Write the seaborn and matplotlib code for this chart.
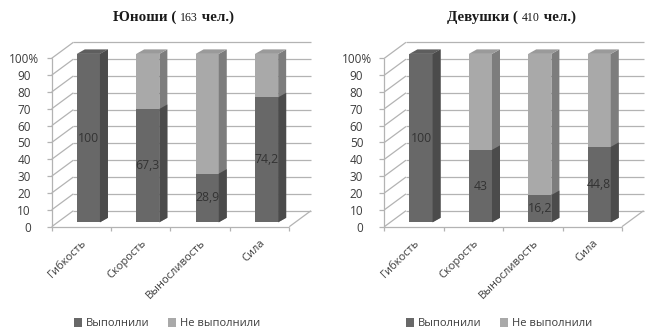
import matplotlib
matplotlib.use("Agg")
import matplotlib.pyplot as plt
import matplotlib.transforms as mtransforms
from matplotlib.patches import Polygon, Patch
import seaborn as sns

# Share of students who met the standard, per quality (percent)
categories = ["Гибкость", "Скорость", "Выносливость", "Сила"]
boys_done = [100, 67.3, 28.9, 74.2]
boys_not_done = [0, 32.7, 71.1, 25.8]
girls_done = [100, 43, 16.2, 44.8]
girls_not_done = [0, 57, 83.8, 55.2]

y_ticks = [0, 10, 20, 30, 40, 50, 60, 70, 80, 90, 100]
y_tick_labels = ["0", "10", "20", "30", "40", "50", "60", "70", "80", "90", "100%"]
legend_labels = ["Выполнили", "Не выполнили"]
panel_titles = [("Юноши ( ", "163", " чел.)"), ("Девушки ( ", "410", " чел.)")]

DARK_FRONT, DARK_SIDE, DARK_TOP = "#686868", "#4b4b4b", "#5e5e5e"
LIGHT_FRONT, LIGHT_SIDE, LIGHT_TOP = "#a9a9a9", "#7d7d7d", "#9a9a9a"
GRID = "#b3b3b3"
TEXT = "#3c3c3c"

sns.set_theme(style="white")
plt.rcParams["font.family"] = ["Open Sans", "DejaVu Sans"]

DPI = 100
fig = plt.figure(figsize=(6.46, 3.36), dpi=DPI)

ax_l = fig.add_axes([0.0800, 0.3253, 0.3678, 0.5012])
ax_r = fig.add_axes([0.5949, 0.3253, 0.3678, 0.5012])

WALL_PX = (21.7, 16.0)    # depth of the back wall
BAR_SHIFT_PX = (7.0, 4.4)  # bars stand in the middle of the floor
BAR_DEPTH_PX = (8.0, 4.5)  # visible depth of each bar


def px2data(ax, dx, dy):
    pos = ax.get_position()
    w = pos.width * fig.get_figwidth() * DPI
    h = pos.height * fig.get_figheight() * DPI
    x0, x1 = ax.get_xlim()
    y0, y1 = ax.get_ylim()
    return dx * (x1 - x0) / w, dy * (y1 - y0) / h


def add_depth(ax, patches, side_color, top_color, with_top):
    bx, by = px2data(ax, *BAR_SHIFT_PX)
    dx, dy = px2data(ax, *BAR_DEPTH_PX)
    for p, top in zip(patches, with_top):
        p.set_x(p.get_x() + bx)
        p.set_y(p.get_y() + by)
        p.set_clip_on(False)
        x0, y0 = p.get_x(), p.get_y()
        x1, y1 = x0 + p.get_width(), y0 + p.get_height()
        if p.get_height() <= 0:
            continue
        ax.add_patch(Polygon([(x1, y0), (x1 + dx, y0 + dy), (x1 + dx, y1 + dy), (x1, y1)],
                             closed=True, facecolor=side_color, edgecolor="none",
                             zorder=p.get_zorder(), clip_on=False))
        if top:
            ax.add_patch(Polygon([(x0, y1), (x0 + dx, y1 + dy), (x1 + dx, y1 + dy), (x1, y1)],
                                 closed=True, facecolor=top_color, edgecolor="none",
                                 zorder=p.get_zorder(), clip_on=False))


def draw_panel(ax, done, not_done, title_parts, title_x):
    n = len(categories)
    totals = [d + m for d, m in zip(done, not_done)]

    ax.set_xlim(-0.5, n - 0.5)
    ax.set_ylim(0, 100)

    # walls and floor
    wx, wy = px2data(ax, *WALL_PX)
    line_kw = dict(color=GRID, lw=0.9, clip_on=False, zorder=0.5, solid_capstyle="butt")
    for v in y_ticks:
        ax.plot([-0.5, -0.5 + wx], [v, v + wy], **line_kw)
        ax.plot([-0.5 + wx, n - 0.5 + wx], [v + wy, v + wy], **line_kw)
    ax.plot([-0.5, -0.5], [0, 100], **line_kw)
    ax.plot([-0.5, n - 0.5], [0, 0], **line_kw)
    ax.plot([n - 0.5, n - 0.5 + wx], [0, wy], **line_kw)

    # stacked bars: full column in light grey, completed share in dark grey
    sns.barplot(x=categories, y=totals, color=LIGHT_FRONT, saturation=1, width=0.39,
                ax=ax, zorder=2, linewidth=0)
    light = list(ax.patches)
    add_depth(ax, light, LIGHT_SIDE, LIGHT_TOP, [m > 0 for m in not_done])

    sns.barplot(x=categories, y=done, color=DARK_FRONT, saturation=1, width=0.39,
                ax=ax, zorder=3, linewidth=0)
    dark = [p for p in ax.patches if p not in light and not isinstance(p, Polygon)]
    add_depth(ax, dark, DARK_SIDE, DARK_TOP, [m <= 0 for m in not_done])

    ax.set_xlim(-0.5, n - 0.5)
    ax.set_ylim(0, 100)

    # value labels in the middle of the completed share
    for p, v in zip(dark, done):
        ax.text(p.get_x() + p.get_width() / 2, p.get_y() + p.get_height() / 2,
                f"{v:g}".replace(".", ","), ha="center", va="center",
                fontsize=8.8, color="#333333", zorder=5)

    for s in ax.spines.values():
        s.set_visible(False)
    ax.grid(False)
    ax.set_xlabel("")
    ax.set_ylabel("")

    ax.set_yticks(y_ticks)
    ax.set_yticklabels(y_tick_labels)
    ax.tick_params(axis="y", length=3.6, width=0.9, color=GRID, labelsize=8.5,
                   labelcolor=TEXT, pad=11.5, left=True)
    ax.set_xticks(range(n))
    ax.set_xticklabels(categories, rotation=45, ha="right", va="top",
                       rotation_mode="anchor")
    ax.set_xticks([i - 0.5 for i in range(n + 1)], minor=True)
    ax.tick_params(axis="x", which="major", length=0, labelsize=8,
                   labelcolor=TEXT, pad=7.7)
    ax.tick_params(axis="x", which="minor", length=3, width=0.9, color=GRID,
                   bottom=True)

    # title pieces: bold words, plain number
    fig.canvas.draw()
    renderer = fig.canvas.get_renderer()
    serif = ["Liberation Serif", "DejaVu Serif"]
    pieces = [dict(s=title_parts[0], fontsize=10.8, fontweight="bold"),
              dict(s=title_parts[1], fontsize=8.6, fontweight="normal"),
              dict(s=title_parts[2], fontsize=10.8, fontweight="bold")]
    texts = [fig.text(0, 0.9375, color="#1a1a1a", family=serif, ha="left",
                      va="baseline", **pc) for pc in pieces]
    widths = [t.get_window_extent(renderer).width for t in texts]
    start = title_x - sum(widths) / 2
    for t, w in zip(texts, widths):
        t.set_x(start / (fig.get_figwidth() * DPI))
        start += w

    # "100%": digits line up with the other labels, the percent sign sticks out
    lab = ax.get_yticklabels()[-1]
    lab.set_transform(lab.get_transform() +
                      mtransforms.ScaledTranslation(8.6 / DPI, 0, fig.dpi_scale_trans))
    return ax


draw_panel(ax_l, boys_done, boys_not_done, panel_titles[0], 173.3)
draw_panel(ax_r, girls_done, girls_not_done, panel_titles[1], 511.7)

handles = [Patch(facecolor=DARK_FRONT, edgecolor="none"),
           Patch(facecolor=LIGHT_FRONT, edgecolor="none")]
for cx in (167 / 646, 499 / 646):
    fig.legend(handles, legend_labels, loc="center", bbox_to_anchor=(cx, 0.036),
               ncol=2, frameon=False, fontsize=8, labelcolor=TEXT,
               handlelength=0.75, handleheight=0.75, handletextpad=0.35,
               columnspacing=1.6, borderaxespad=0)

fig.savefig("out.png", dpi=DPI, facecolor="white")
